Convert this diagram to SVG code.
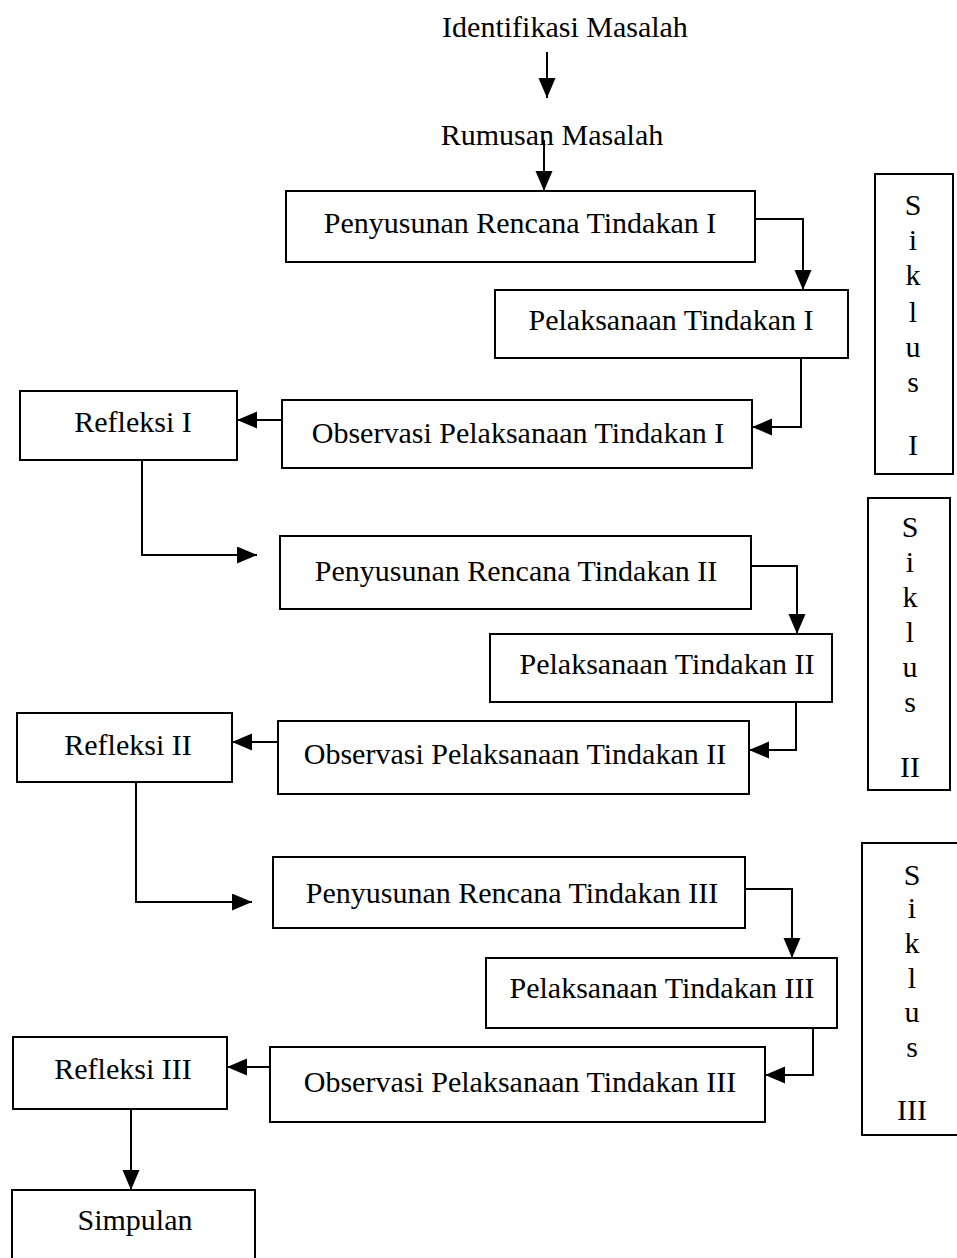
<svg xmlns="http://www.w3.org/2000/svg" width="957" height="1258" viewBox="0 0 957 1258">
<style>
  .box { fill: #ffffff; stroke: #000000; stroke-width: 2; }
  .t { font-family: "Liberation Serif", "Times New Roman", serif; font-size: 30px; fill: #000000; text-anchor: middle; }
  .c { fill: none; stroke: #000000; stroke-width: 2; marker-end: url(#arr); }
</style>
<defs>
  <marker id="arr" markerUnits="userSpaceOnUse" markerWidth="20" markerHeight="18" refX="20" refY="8.5" orient="auto">
    <path d="M0,0 L20,8.5 L0,17 z" fill="#000000"/>
  </marker>
</defs>
<rect width="957" height="1258" fill="#ffffff"/>

<g id="identifikasi"><text class="t" x="565" y="37">Identifikasi Masalah</text></g>
<g id="rumusan"><text class="t" x="552" y="145">Rumusan Masalah</text></g>

<g id="prt1"><rect class="box" x="286" y="191" width="469" height="71"/><text class="t" x="520" y="233">Penyusunan Rencana Tindakan I</text></g>
<g id="pt1"><rect class="box" x="495" y="290" width="353" height="68"/><text class="t" x="671" y="330">Pelaksanaan Tindakan I</text></g>
<g id="opt1"><rect class="box" x="282" y="400" width="470" height="68"/><text class="t" x="518" y="443">Observasi Pelaksanaan Tindakan I</text></g>
<g id="ref1"><rect class="box" x="20" y="391" width="217" height="69"/><text class="t" x="133" y="432">Refleksi I</text></g>

<g id="prt2"><rect class="box" x="280" y="536" width="471" height="73"/><text class="t" x="516" y="581">Penyusunan Rencana Tindakan II</text></g>
<g id="pt2"><rect class="box" x="490" y="634" width="342" height="68"/><text class="t" x="667" y="674">Pelaksanaan Tindakan II</text></g>
<g id="opt2"><rect class="box" x="278" y="721" width="471" height="73"/><text class="t" x="515" y="764">Observasi Pelaksanaan Tindakan II</text></g>
<g id="ref2"><rect class="box" x="17" y="713" width="215" height="69"/><text class="t" x="128" y="755">Refleksi II</text></g>

<g id="prt3"><rect class="box" x="273" y="857" width="472" height="71"/><text class="t" x="512" y="903">Penyusunan Rencana Tindakan III</text></g>
<g id="pt3"><rect class="box" x="486" y="958" width="351" height="70"/><text class="t" x="662" y="998">Pelaksanaan Tindakan III</text></g>
<g id="opt3"><rect class="box" x="270" y="1047" width="495" height="75"/><text class="t" x="520" y="1092">Observasi Pelaksanaan Tindakan III</text></g>
<g id="ref3"><rect class="box" x="13" y="1037" width="214" height="72"/><text class="t" x="123" y="1079">Refleksi III</text></g>
<g id="simpulan"><rect class="box" x="12" y="1190" width="243" height="75"/><text class="t" x="135" y="1230">Simpulan</text></g>

<g id="siklus1">
  <rect class="box" x="875" y="174" width="78" height="300"/>
  <text class="t" x="913" y="215">S</text><text class="t" x="913" y="250">i</text><text class="t" x="913" y="285">k</text>
  <text class="t" x="913" y="322">l</text><text class="t" x="913" y="357">u</text><text class="t" x="913" y="392">s</text>
  <text class="t" x="913" y="455">I</text>
</g>
<g id="siklus2">
  <rect class="box" x="868" y="498" width="82" height="292"/>
  <text class="t" x="910" y="537">S</text><text class="t" x="910" y="572">i</text><text class="t" x="910" y="607">k</text>
  <text class="t" x="910" y="642">l</text><text class="t" x="910" y="677">u</text><text class="t" x="910" y="712">s</text>
  <text class="t" x="910" y="777">II</text>
</g>
<g id="siklus3">
  <rect class="box" x="862" y="843" width="100" height="292"/>
  <text class="t" x="912" y="885">S</text><text class="t" x="912" y="918">i</text><text class="t" x="912" y="953">k</text>
  <text class="t" x="912" y="988">l</text><text class="t" x="912" y="1022">u</text><text class="t" x="912" y="1057">s</text>
  <text class="t" x="912" y="1120">III</text>
</g>

<g id="connectors">
  <path class="c" d="M547,52 V98"/>
  <path class="c" d="M544,140 V191"/>
  <path class="c" d="M755,219 H803 V290"/>
  <path class="c" d="M801,358 V427 H752"/>
  <path class="c" d="M282,420 H237"/>
  <path class="c" d="M142,460 V555 H257"/>
  <path class="c" d="M751,566 H797 V634"/>
  <path class="c" d="M796,702 V750 H749"/>
  <path class="c" d="M278,742 H232"/>
  <path class="c" d="M136,782 V902 H252"/>
  <path class="c" d="M745,889 H792 V958"/>
  <path class="c" d="M813,1028 V1075 H765"/>
  <path class="c" d="M270,1067 H227"/>
  <path class="c" d="M131,1109 V1190"/>
</g>
</svg>
